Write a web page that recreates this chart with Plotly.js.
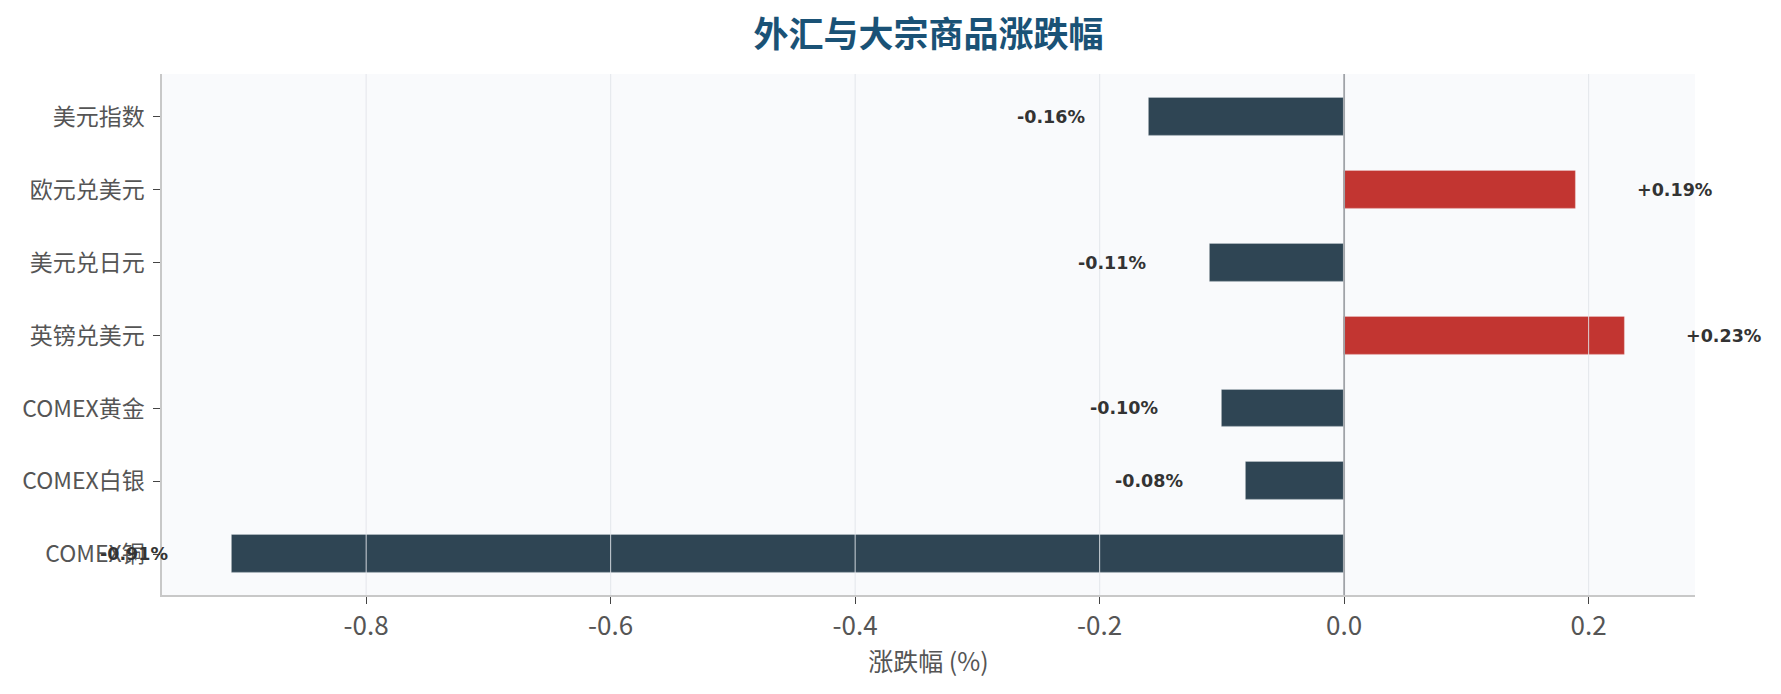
<!DOCTYPE html>
<html>
<head>
<meta charset="utf-8">
<script src="https://cdn.plot.ly/plotly-3.0.1.min.js"></script>
<style>html,body{margin:0;padding:0;background:#fff;}#chart{width:1781px;height:694px;}</style>
</head>
<body>
<div id="chart"></div>
<script>
const categories = ['美元指数', '欧元兑美元', '美元兑日元', '英镑兑美元', 'COMEX黄金', 'COMEX白银', 'COMEX铜'];
const changes = [-0.16, 0.19, -0.11, 0.23, -0.10, -0.08, -0.91];
const xTicks = [-0.8, -0.6, -0.4, -0.2, 0.0, 0.2];
const xTickLabels = ['-0.8', '-0.6', '-0.4', '-0.2', '0.0', '0.2'];

const UP = '#c23531', DOWN = '#2f4554';
const FONT = '"Noto Sans CJK SC", "Noto Sans", sans-serif';
const XRANGE = [-0.967, 0.287];
const YRANGE = [6.56, -0.59];

const labelOffset = 0.08;
const toPaperX = v => (v - XRANGE[0]) / (XRANGE[1] - XRANGE[0]);
const toPaperY = i => (YRANGE[0] - i) / (YRANGE[0] - YRANGE[1]);
const annotations = changes.map((v, i) => ({
  x: toPaperX(v + (v >= 0 ? labelOffset : -labelOffset)),
  y: toPaperY(i),
  xref: 'paper', yref: 'paper',
  text: (v >= 0 ? '+' : '') + v.toFixed(2) + '%',
  showarrow: false,
  xanchor: 'center', yanchor: 'middle',
  font: {family: '"DejaVu Sans", sans-serif', size: 17.5, color: '#333333', weight: 'bold'}
}));

const shapes = xTicks.filter(t => t !== 0).map(t => ({
  type: 'line', xref: 'x', yref: 'paper', x0: t, x1: t, y0: 0, y1: 1,
  line: {color: 'rgba(225,228,233,0.9)', width: 1}, layer: 'above'
}));
shapes.push({
  type: 'line', xref: 'x', yref: 'paper', x0: 0, x1: 0, y0: 0, y1: 1,
  line: {color: '#a0a3a8', width: 1.8}, layer: 'above'
});

const trace = {
  type: 'bar',
  orientation: 'h',
  x: changes,
  y: categories,
  width: 0.52,
  marker: {
    color: changes.map(v => v >= 0 ? UP : DOWN),
    line: {color: 'rgba(255,255,255,0.22)', width: 1.2}
  },
  hoverinfo: 'x+y'
};

const layout = {
  width: 1781, height: 694,
  margin: {l: 162, r: 86, t: 74, b: 99},
  paper_bgcolor: '#ffffff',
  plot_bgcolor: '#f9fafc',
  font: {family: FONT, color: '#555555'},
  title: {
    text: '外汇与大宗商品涨跌幅',
    font: {family: FONT, size: 35, color: '#1a5276', weight: 'bold'},
    x: 0.5, xref: 'paper', xanchor: 'center',
    y: 1 - 35/694, yref: 'container', yanchor: 'middle'
  },
  xaxis: {
    range: XRANGE,
    tickvals: xTicks, ticktext: xTickLabels,
    ticks: 'outside', ticklen: 7, tickwidth: 1.2, tickcolor: '#444',
    tickfont: {family: FONT, size: 26, color: '#555555'},
    showgrid: false, zeroline: false,
    showline: true, linecolor: '#c8c8c8', linewidth: 1.5,
    title: {text: '涨跌幅 (%)', font: {family: FONT, size: 25, color: '#555555'}, standoff: 10}
  },
  yaxis: {
    type: 'category',
    categoryorder: 'array', categoryarray: categories,
    range: YRANGE,
    ticks: 'outside', ticklen: 7, tickwidth: 1.2, tickcolor: '#444',
    ticklabelstandoff: 4,
    tickfont: {family: FONT, size: 23, color: '#555555'},
    showgrid: false, zeroline: false,
    showline: true, linecolor: '#c8c8c8', linewidth: 1.5
  },
  annotations: annotations,
  shapes: shapes,
  showlegend: false,
  bargap: 0
};

Plotly.newPlot('chart', [trace], layout, {displayModeBar: false, responsive: false});
</script>
</body>
</html>
